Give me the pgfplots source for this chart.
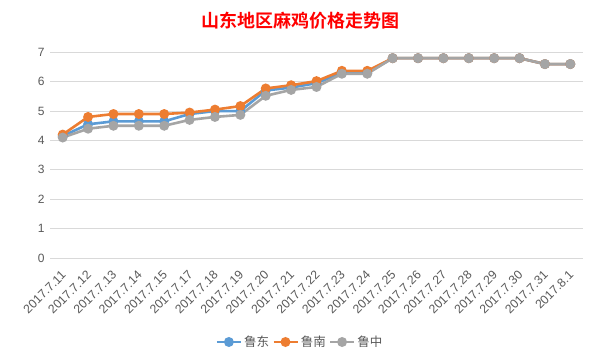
\documentclass[border=0pt]{standalone}
\usepackage{fontspec}
\setmainfont{Liberation Sans}
\newfontfamily\cjk{Noto Sans CJK SC}
\newfontfamily\cjkb{Noto Sans CJK SC Bold}
\usepackage{pgfplots}
\pgfplotsset{compat=1.18}
\definecolor{cblue}{HTML}{5B9BD5}
\definecolor{corange}{HTML}{ED7D31}
\definecolor{cgray}{HTML}{A5A5A5}
\definecolor{ctext}{HTML}{595959}
\definecolor{cgrid}{HTML}{D9D9D9}
\begin{document}
\begin{tikzpicture}[x=1pt,y=1pt]
\useasboundingbox[fill=white] (0,0) rectangle (600,364);
\node[font=\cjkb\fontsize{18}{20}\selectfont, text=red] at (300,343) {山东地区麻鸡价格走势图};
\begin{axis}[
  at={(50pt,106pt)}, anchor=south west,
  scale only axis, width=533pt, height=205.7pt,
  xmin=-0.5, xmax=20.5, ymin=0, ymax=7,
  ytick={0,1,...,7},
  xtick={0,...,20},
  xticklabels={2017.7.11,2017.7.12,2017.7.13,2017.7.14,2017.7.15,2017.7.17,2017.7.18,2017.7.19,2017.7.20,2017.7.21,2017.7.22,2017.7.23,2017.7.24,2017.7.25,2017.7.26,2017.7.27,2017.7.28,2017.7.29,2017.7.30,2017.7.31,2017.8.1},
  xticklabel style={xshift=1pt, yshift=-15pt, rotate=45, anchor=east, font=\fontsize{12.3}{13}\selectfont, text=ctext, inner sep=0pt},
  yticklabel style={font=\fontsize{12}{13}\selectfont, text=ctext, xshift=-2pt},
  /pgf/number format/assume math mode=true,
  axis line style={draw=none},
  major tick length=0pt,
  ymajorgrids, grid style={cgrid, line width=0.8pt},
  legend style={draw=none, fill=none,
    font=\cjk\fontsize{12.5}{14}\selectfont, text=ctext,
    legend columns=3, /tikz/every even column/.append style={column sep=1pt},
    at={(250pt,-84pt)}, anchor=center},
  legend image code/.code={
    \draw[#1, mark=none] (0pt,0pt) -- (24pt,0pt);
    \draw[#1, only marks] plot coordinates {(12pt,0pt)};
  },
  every axis plot/.append style={line width=2.6pt, mark=*, mark size=3.6pt, mark options={solid}},
]
\addplot[cblue, mark options={fill=cblue, draw=cblue}] coordinates {
(0,4.15)(1,4.55)(2,4.65)(3,4.65)(4,4.65)(5,4.9)(6,5.0)(7,5.0)(8,5.7)(9,5.8)(10,5.95)(11,6.3)(12,6.3)(13,6.8)(14,6.8)(15,6.8)(16,6.8)(17,6.8)(18,6.8)(19,6.6)(20,6.6)};
\addlegendentry{鲁东}
\addplot[corange, mark options={fill=corange, draw=corange}] coordinates {
(0,4.2)(1,4.8)(2,4.9)(3,4.9)(4,4.9)(5,4.95)(6,5.05)(7,5.17)(8,5.77)(9,5.88)(10,6.02)(11,6.37)(12,6.37)(13,6.8)(14,6.8)(15,6.8)(16,6.8)(17,6.8)(18,6.8)(19,6.6)(20,6.6)};
\addlegendentry{鲁南}
\addplot[cgray, mark options={fill=cgray, draw=cgray}] coordinates {
(0,4.1)(1,4.4)(2,4.5)(3,4.5)(4,4.5)(5,4.7)(6,4.8)(7,4.87)(8,5.52)(9,5.72)(10,5.82)(11,6.27)(12,6.27)(13,6.8)(14,6.8)(15,6.8)(16,6.8)(17,6.8)(18,6.8)(19,6.6)(20,6.6)};
\addlegendentry{鲁中}
\end{axis}
\end{tikzpicture}
\end{document}
